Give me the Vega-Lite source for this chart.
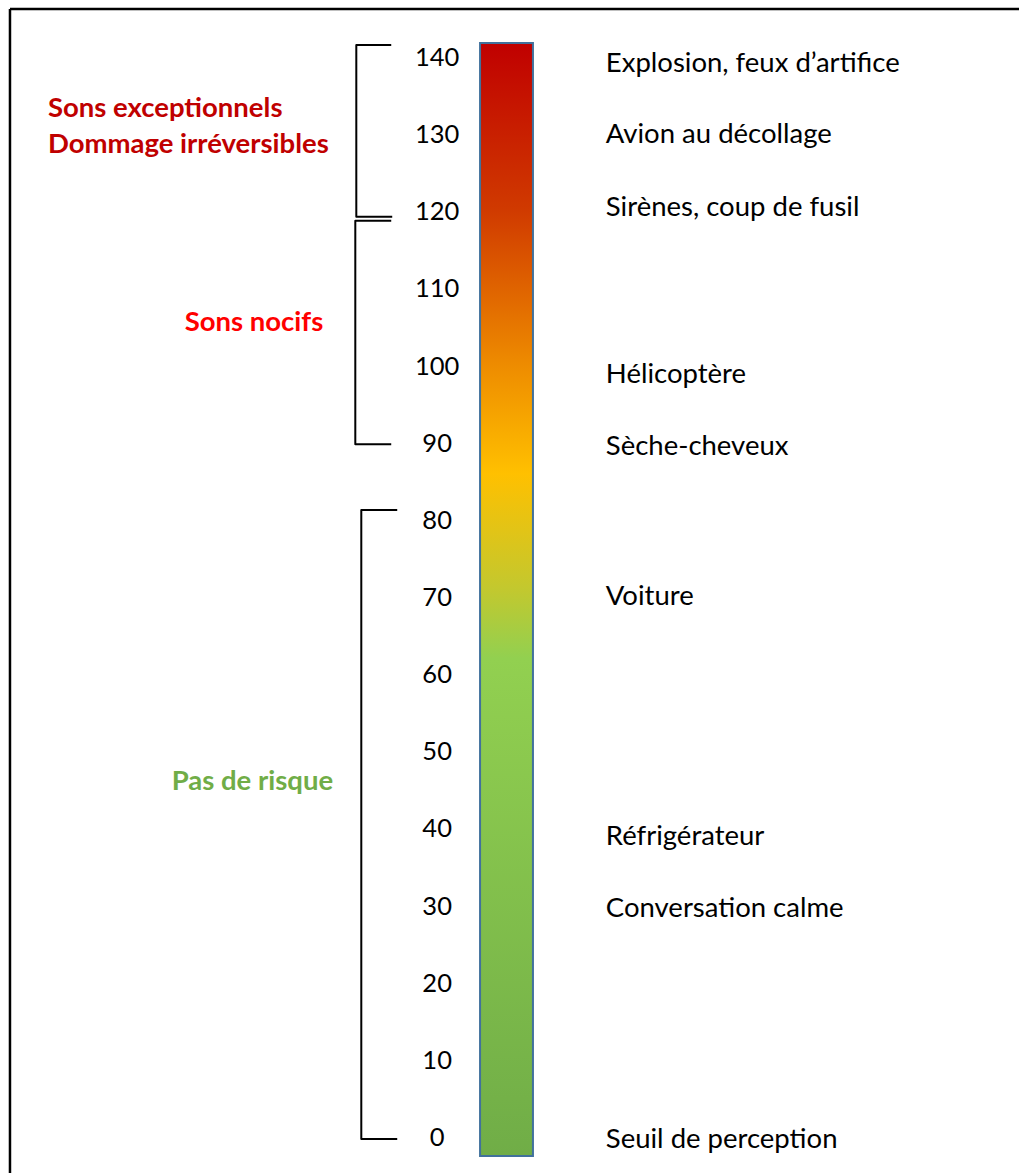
{
  "$schema": "https://vega.github.io/schema/vega-lite/v6.json",
  "width": 1021,
  "height": 1175,
  "padding": 0,
  "autosize": {"type": "fit", "contains": "padding"},
  "background": "white",
  "config": {"view": {"stroke": null}, "text": {"font": "Lato"}},
  "datasets": {
    "ticks": [
      {"db": 0}, {"db": 10}, {"db": 20}, {"db": 30}, {"db": 40}, {"db": 50}, {"db": 60}, {"db": 70},
      {"db": 80}, {"db": 90}, {"db": 100}, {"db": 110}, {"db": 120}, {"db": 130}, {"db": 140}
    ],
    "sources": [
      {"db": 139.35, "text": "Explosion, feux d’artifice"},
      {"db": 130.17, "text": "Avion au décollage"},
      {"db": 120.72, "text": "Sirènes, coup de fusil"},
      {"db": 98.98, "text": "Hélicoptère"},
      {"db": 89.67, "text": "Sèche-cheveux"},
      {"db": 70.26, "text": "Voiture"},
      {"db": 39.2, "text": "Réfrigérateur"},
      {"db": 29.76, "text": "Conversation calme"},
      {"db": -0.13, "text": "Seuil de perception"}
    ],
    "cats": [
      {"x": 48, "db": 133.53, "text": "Sons exceptionnels", "group": "exceptionnels"},
      {"x": 48, "db": 128.87, "text": "Dommage irréversibles", "group": "exceptionnels"},
      {"x": 185, "db": 105.71, "text": "Sons nocifs", "group": "nocifs"},
      {"x": 172, "db": 46.32, "text": "Pas de risque", "group": "risque"}
    ],
    "bar": [{"x": 481, "x2": 534, "lo": -2.46, "hi": 141.81}],
    "brackets": [
      {"b": 1, "o": 1, "x": 392, "db": 141.55},
      {"b": 1, "o": 2, "x": 357, "db": 141.55},
      {"b": 1, "o": 3, "x": 357, "db": 119.3},
      {"b": 1, "o": 4, "x": 393, "db": 119.3},
      {"b": 2, "o": 1, "x": 392, "db": 118.78},
      {"b": 2, "o": 2, "x": 356, "db": 118.78},
      {"b": 2, "o": 3, "x": 356, "db": 89.8},
      {"b": 2, "o": 4, "x": 392, "db": 89.8},
      {"b": 3, "o": 1, "x": 398, "db": 81.26},
      {"b": 3, "o": 2, "x": 362, "db": 81.26},
      {"b": 3, "o": 3, "x": 362, "db": -0.26},
      {"b": 3, "o": 4, "x": 398, "db": -0.26}
    ],
    "frame": [
      {"x": 10, "x2": 1021, "db": 146.21, "db2": 146.21},
      {"x": 10, "x2": 10, "db": 146.21, "db2": -4.66}
    ]
  },
  "layer": [
    {
      "data": {"name": "frame"},
      "mark": {"type": "rule", "stroke": "#000000", "strokeWidth": 2.5},
      "encoding": {
        "x": {"field": "x", "type": "quantitative", "scale": {"domain": [0, 1021], "nice": false, "zero": false}, "axis": null},
        "x2": {"field": "x2"},
        "y": {"field": "db", "type": "quantitative", "scale": {"domain": [-4.66, 147.38], "nice": false, "zero": false}, "axis": null},
        "y2": {"field": "db2"}
      }
    },
    {
      "data": {"name": "bar"},
      "mark": {
        "type": "rect",
        "stroke": "#41719c",
        "strokeWidth": 2,
        "fill": {
          "gradient": "linear",
          "x1": 0, "y1": 0, "x2": 0, "y2": 1,
          "stops": [
            {"offset": 0, "color": "#c00000"},
            {"offset": 0.15, "color": "#d03a00"},
            {"offset": 0.29, "color": "#ee8c00"},
            {"offset": 0.387, "color": "#ffc000"},
            {"offset": 0.49, "color": "#c3c82e"},
            {"offset": 0.553, "color": "#92d050"},
            {"offset": 1, "color": "#70ad47"}
          ]
        }
      },
      "encoding": {
        "x": {"field": "x", "type": "quantitative"},
        "x2": {"field": "x2"},
        "y": {"field": "lo", "type": "quantitative"},
        "y2": {"field": "hi"}
      }
    },
    {
      "data": {"name": "brackets"},
      "mark": {"type": "line", "stroke": "#000000", "strokeWidth": 2, "strokeJoin": "round"},
      "encoding": {
        "x": {"field": "x", "type": "quantitative"},
        "y": {"field": "db", "type": "quantitative"},
        "detail": {"field": "b"},
        "order": {"field": "o"}
      }
    },
    {
      "data": {"name": "ticks"},
      "mark": {"type": "text", "fontSize": 25.5, "align": "center", "baseline": "middle", "dy": 1, "color": "#000000"},
      "encoding": {
        "x": {"datum": 438, "type": "quantitative"},
        "y": {"field": "db", "type": "quantitative"},
        "text": {"field": "db", "type": "quantitative"}
      }
    },
    {
      "data": {"name": "sources"},
      "mark": {"type": "text", "fontSize": 27.5, "align": "left", "baseline": "middle", "dy": 2, "color": "#000000"},
      "encoding": {
        "x": {"datum": 607, "type": "quantitative"},
        "y": {"field": "db", "type": "quantitative"},
        "text": {"field": "text"}
      }
    },
    {
      "data": {"name": "cats"},
      "mark": {"type": "text", "fontSize": 27.5, "fontWeight": "bold", "align": "left", "baseline": "middle", "dy": 2},
      "encoding": {
        "x": {"field": "x", "type": "quantitative"},
        "y": {"field": "db", "type": "quantitative"},
        "text": {"field": "text"},
        "color": {"field": "group", "type": "nominal", "scale": {"domain": ["exceptionnels", "nocifs", "risque"], "range": ["#c00000", "#ff0000", "#70ad47"]}, "legend": null}
      }
    }
  ]
}
